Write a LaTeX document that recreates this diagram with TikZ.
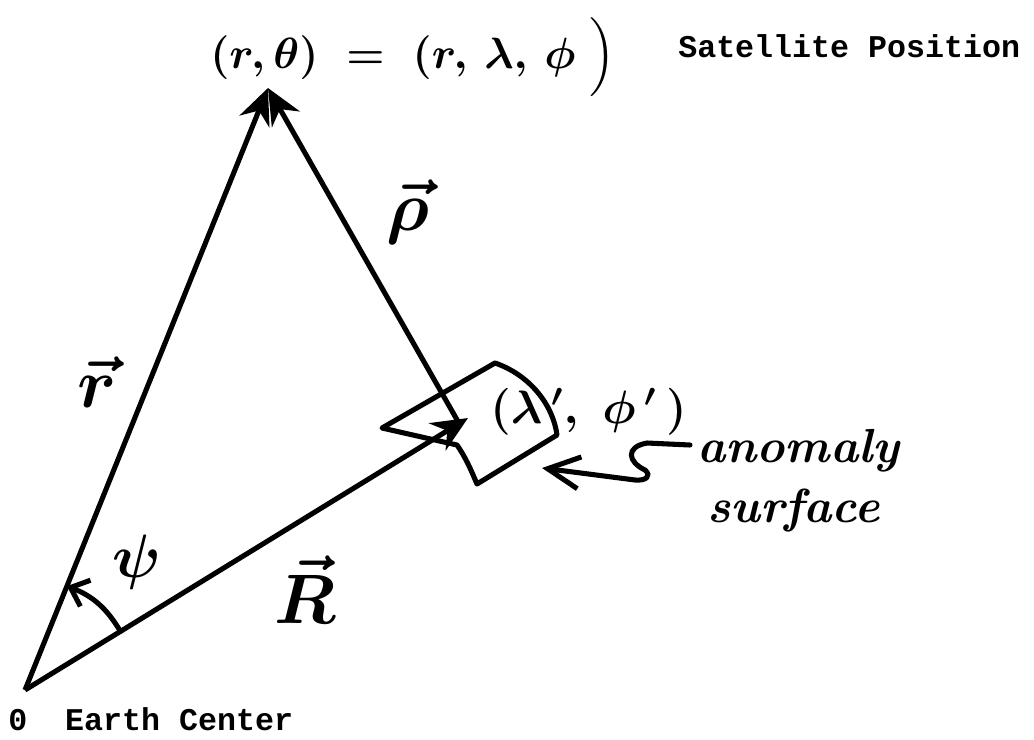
\documentclass[tikz,border=0pt]{standalone}
\usepackage{amsmath}
\usepackage{fontspec}
\newfontfamily\typewriter{Liberation Mono}
\usepackage{tikz}
\usetikzlibrary{arrows.meta,calc}
\tikzset{
  vecline/.style={-{Stealth[length=9mm,width=8mm]}, line width=3.6pt},
  stroke/.style={line width=3.6pt, line join=round, line cap=round},
  typed/.style={font=\typewriter\bfseries\fontsize{22.5}{27}\selectfont, anchor=base west, inner sep=0pt},
  hand/.style={font=\huge\boldmath, scale=1.5, inner sep=0pt},
  veclabel/.style={font=\huge\boldmath, scale=2.4, inner sep=0pt},
  note/.style={font=\itshape\bfseries\fontsize{34}{40}\selectfont, anchor=base west, inner sep=0pt}
}

\begin{document}
\begin{tikzpicture}[x=0.025cm, y=-0.025cm]
\useasboundingbox (0,0) rectangle (1034,739);
% triangle corners
\coordinate (O) at (25,690);
\coordinate (sat) at (268,88);
\coordinate (Rtip) at (468,418);
\coordinate (foot) at (460,425);
% anomaly patch
\coordinate (pT) at (495,363);
\coordinate (pL) at (382,428);
\coordinate (pM) at (457,445);
\coordinate (pB) at (477,484);
\coordinate (pR) at (557,435);
\draw[stroke] (pT) -- (pL) -- (pM) .. controls (466,458) and (471,470) .. (pB)
  -- (pR) .. controls (553,405) and (530,375) .. (pT);

\draw[vecline] (O) -- (sat);
\draw[vecline] (O) -- (Rtip);
\draw[vecline] (foot) -- (sat);

% angle psi
\coordinate (a1) at ($(O)!2.8cm!(Rtip)$);
\coordinate (a2) at ($(O)!2.8cm!(sat)$);
\draw[stroke, -{Straight Barb[length=4mm,width=7mm]}] (a1) to[bend right=19] (a2);

% labels
\node[hand, anchor=base] (satpos) at (413,68) {$(r,\theta)\;=\;(r,\,\lambda,\,\phi\;\Big)$};
\node[typed] (satlbl) at (678,57) {Satellite Position};
\node[typed] (earth) at (8,730) {0\ \ Earth Center};
\node[veclabel] (rlbl) at (97,382) {$\vec r$};
\node[veclabel] (rholbl) at (408,212) {$\vec\rho$};
\node[veclabel] (Rlbl) at (305,590) {$\vec R$};
\node[font=\huge\boldmath, scale=2.1, inner sep=0pt] (psilbl) at (137,562) {$\psi$};
\node[hand, scale=1.07, anchor=base west] (anompt) at (490,423) {$(\lambda\,',\;\phi\,'\,)$};
\node[note] (anom) at (697,462) {anomaly};
\node[note] (surf) at (707,522) {surface};

% pointer to the patch
\coordinate (sq) at (690,445);
\coordinate (sqtip) at (542,468);
\draw[stroke, -{Straight Barb[length=8mm,width=8mm]}] (sq) -- (647,443)
  .. controls (625,447) and (628,462) .. (645,470)
  .. controls (652,476) and (646,481) .. (635,480) -- (sqtip);
\end{tikzpicture}
\end{document}
